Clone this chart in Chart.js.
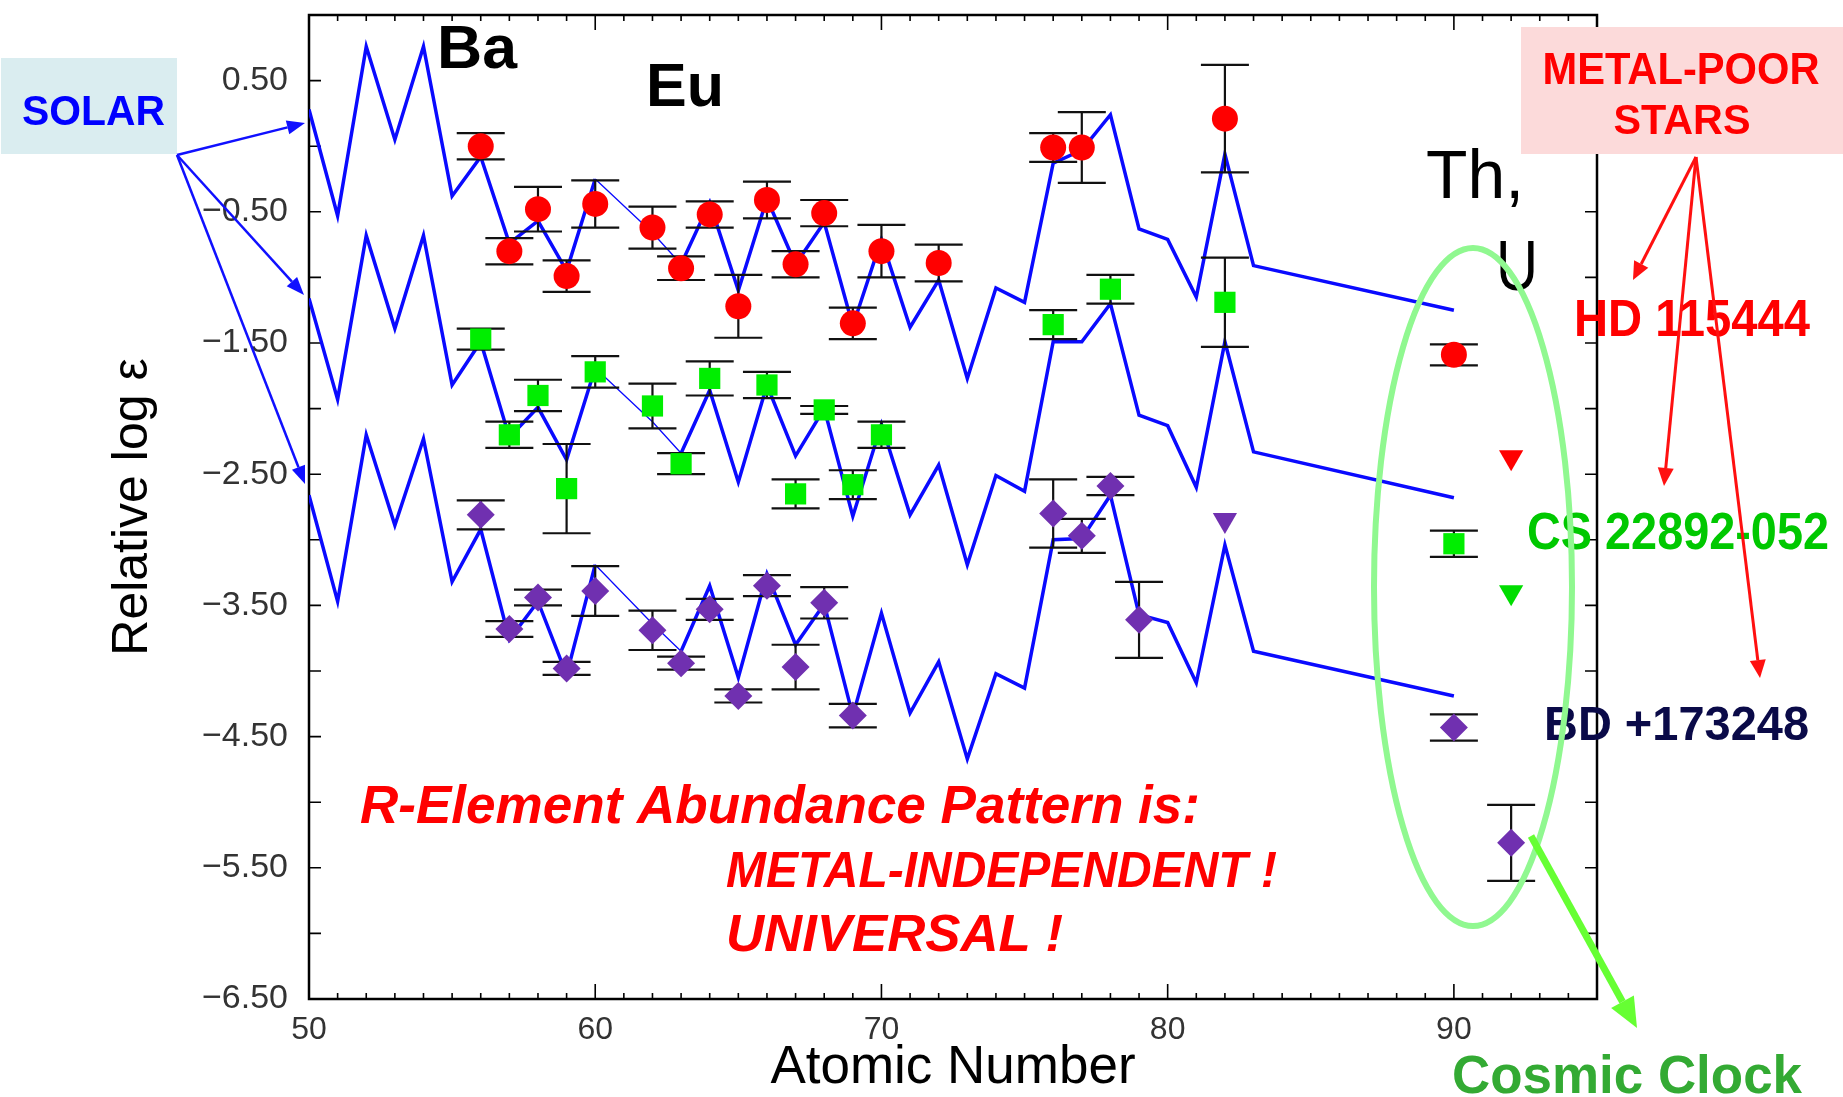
<!DOCTYPE html>
<html>
<head>
<meta charset="utf-8">
<title>r-process abundance pattern</title>
<script src="https://cdn.jsdelivr.net/npm/chart.js@4.4.1/dist/chart.umd.min.js"></script>
<style>
  html, body { margin: 0; padding: 0; background: #fff; }
  canvas { display: block; }
</style>
</head>
<body>
<canvas id="abund" width="1843" height="1097"></canvas>
<script>
// solar r-process curve, scaled to each star (no value for Z = 61, Z = 84-89)
const solarZ = [50, 51, 52, 53, 54, 55, 56, 57, 58, 59, 60,
  62, 63, 64, 65, 66, 67, 68, 69, 70, 71, 72, 73, 74, 75, 76, 77, 78, 79, 80, 81, 82, 83,
  90];
const solarHD = [0.28, -0.53, 0.76, 0.05, 0.76, -0.38, -0.08, -0.74, -0.57, -0.95, -0.25,
  -0.66, -0.90, -0.43, -1.10, -0.40, -0.90, -0.58, -1.37, -0.71, -1.38, -1.02, -1.77, -1.08, -1.19, -0.13, -0.03, 0.24, -0.63, -0.71, -1.15, -0.06, -0.91,
  -1.25];
const solarCS = [-1.16, -1.93, -0.68, -1.39, -0.68, -1.82, -1.49, -2.22, -1.99, -2.39, -1.69,
  -2.10, -2.34, -1.86, -2.56, -1.82, -2.36, -2.00, -2.82, -2.12, -2.81, -2.43, -3.19, -2.51, -2.63, -1.49, -1.49, -1.20, -2.05, -2.13, -2.60, -1.49, -2.33,
  -2.68];
const solarBD = [-2.66, -3.47, -2.20, -2.89, -2.23, -3.32, -2.92, -3.76, -3.47, -4.03, -3.19,
  -3.64, -3.85, -3.35, -4.05, -3.26, -3.80, -3.49, -4.34, -3.56, -4.32, -3.93, -4.67, -4.02, -4.13, -3.00, -2.99, -2.66, -3.57, -3.63, -4.09, -3.04, -3.85,
  -4.19];
// segments starting at these Z are drawn thin (across the Pm gap)
const thinFrom = [60, 62];

// HD 115444
const hdZ = [56, 57, 58, 59, 60, 62, 63, 64, 65, 66, 67, 68, 69, 70, 72, 76, 77, 82, 90];
const hdLog = [0.00, -0.80, -0.48, -0.99, -0.44, -0.62, -0.93, -0.52, -1.22, -0.41, -0.90, -0.51, -1.35, -0.80, -0.89, -0.01, -0.01, 0.21, -1.59];
const hdErr = [0.10, 0.10, 0.17, 0.12, 0.18, 0.16, 0.09, 0.10, 0.24, 0.14, 0.10, 0.10, 0.12, 0.20, 0.14, 0.11, 0.27, 0.41, 0.08];
const hdLimZ = [92];
const hdLim = [-2.37];

// CS 22892-052
const csZ = [56, 57, 58, 59, 60, 62, 63, 64, 66, 67, 68, 69, 70, 76, 78, 82, 90];
const csLog = [-1.47, -2.20, -1.90, -2.61, -1.72, -1.98, -2.42, -1.77, -1.82, -2.65, -2.01, -2.58, -2.20, -1.36, -1.09, -1.19, -3.03];
const csErr = [0.08, 0.10, 0.12, 0.34, 0.12, 0.17, 0.08, 0.13, 0.10, 0.11, 0.03, 0.11, 0.10, 0.11, 0.11, 0.34, 0.10];
const csLimZ = [92];
const csLim = [-3.40];

// BD +17 3248
const bdZ = [56, 57, 58, 59, 60, 62, 63, 64, 65, 66, 67, 68, 69, 76, 77, 78, 79, 90, 92];
const bdLog = [-2.81, -3.68, -3.44, -3.98, -3.39, -3.69, -3.94, -3.53, -4.19, -3.35, -3.97, -3.48, -4.34, -2.80, -2.97, -2.59, -3.61, -4.43, -5.31];
const bdErr = [0.11, 0.06, 0.06, 0.05, 0.19, 0.15, 0.05, 0.08, 0.05, 0.08, 0.17, 0.12, 0.09, 0.26, 0.13, 0.07, 0.29, 0.10, 0.29];
const bdLimZ = [82];
const bdLim = [-2.85];

const xTicks = [50, 60, 70, 80, 90];
const yTicks = [0.5, -0.5, -1.5, -2.5, -3.5, -4.5, -5.5, -6.5];

const FONT = '"Liberation Sans", Arial, Helvetica, sans-serif';

function pts(xs, ys) {
  return xs.map((x, i) => ({ x: x, y: ys[i] }));
}

function solarLine(ys) {
  return {
    data: pts(solarZ, ys),
    showLine: true,
    borderColor: '#0a0aff',
    borderWidth: 3.5,
    pointRadius: 0,
    tension: 0,
    order: 1,
    segment: { borderWidth: c => thinFrom.includes(c.p0.parsed.x) ? 1.3 : 3.5 }
  };
}

function stars(xs, ys, errs, style, color, radius) {
  return {
    data: pts(xs, ys),
    errors: errs,
    showLine: false,
    pointStyle: style,
    pointRadius: radius,
    backgroundColor: color,
    borderColor: color,
    borderWidth: 0,
    order: 0
  };
}

function limits(xs, ys, color) {
  return {
    data: pts(xs, ys),
    showLine: false,
    pointStyle: 'triangle',
    rotation: 180,
    pointRadius: 14,
    backgroundColor: color,
    borderColor: color,
    borderWidth: 0,
    order: 0
  };
}

// keep the axes from reserving room for half-labels at the ends
function noEdgePadding(s) {
  s.paddingTop = 0;
  s.paddingBottom = 0;
  s.paddingLeft = 0;
  s.paddingRight = 0;
}

// box frame with inward ticks on all four sides
const framePlugin = {
  id: 'frame',
  beforeDatasetsDraw(chart) {
    const { ctx, chartArea: a, scales: { x, y } } = chart;
    ctx.save();
    ctx.strokeStyle = '#000';
    ctx.lineWidth = 2.5;
    ctx.strokeRect(a.left, a.top, a.right - a.left, a.bottom - a.top);
    ctx.lineWidth = 1.6;
    ctx.beginPath();
    for (let z = 50; z <= 95; z++) {
      const px = x.getPixelForValue(z);
      const len = z % 10 === 0 ? 15 : 6;
      ctx.moveTo(px, a.bottom); ctx.lineTo(px, a.bottom - len);
      ctx.moveTo(px, a.top); ctx.lineTo(px, a.top + len);
    }
    for (let v = -6.5; v <= 1.0; v += 0.5) {
      const py = y.getPixelForValue(v);
      ctx.moveTo(a.left, py); ctx.lineTo(a.left + 12, py);
      ctx.moveTo(a.right, py); ctx.lineTo(a.right - 12, py);
    }
    ctx.stroke();
    ctx.restore();
  }
};

// error bars go over the solar curves but under the markers
let barsDrawn = false;
const errorBarPlugin = {
  id: 'errorBars',
  beforeDatasetsDraw() { barsDrawn = false; },
  beforeDatasetDraw(chart, args) {
    if (barsDrawn || chart.data.datasets[args.index].order !== 0) return;
    barsDrawn = true;
    const { ctx, scales: { x, y } } = chart;
    ctx.save();
    ctx.strokeStyle = '#111';
    ctx.lineWidth = 2.2;
    ctx.beginPath();
    chart.data.datasets.forEach(ds => {
      if (!ds.errors) return;
      ds.data.forEach((p, i) => {
        const px = x.getPixelForValue(p.x);
        const hi = y.getPixelForValue(p.y + ds.errors[i]);
        const lo = y.getPixelForValue(p.y - ds.errors[i]);
        ctx.moveTo(px, hi); ctx.lineTo(px, lo);
        ctx.moveTo(px - 24, hi); ctx.lineTo(px + 24, hi);
        ctx.moveTo(px - 24, lo); ctx.lineTo(px + 24, lo);
      });
    });
    ctx.stroke();
    ctx.restore();
  }
};

function text(ctx, t, x, y, size, color, w, style, align) {
  ctx.save();
  ctx.font = (style || 'bold') + ' ' + size + 'px ' + FONT;
  const m = ctx.measureText(t).width;
  const sx = w ? w / m : 1;
  const left = align === 'center' ? x - (w || m) / 2 : x;
  ctx.translate(left, y);
  ctx.scale(sx, 1);
  ctx.fillStyle = color;
  ctx.textAlign = 'left';
  ctx.textBaseline = 'alphabetic';
  ctx.fillText(t, 0, 0);
  ctx.restore();
}

function arrow(ctx, x0, y0, x1, y1, color, lw, head, half) {
  const ang = Math.atan2(y1 - y0, x1 - x0);
  const bx = x1 - Math.cos(ang) * head, by = y1 - Math.sin(ang) * head;
  ctx.save();
  ctx.strokeStyle = color;
  ctx.fillStyle = color;
  ctx.lineWidth = lw;
  ctx.beginPath();
  ctx.moveTo(x0, y0);
  ctx.lineTo(bx, by);
  ctx.stroke();
  ctx.beginPath();
  ctx.moveTo(x1, y1);
  ctx.lineTo(bx + Math.sin(ang) * half, by - Math.cos(ang) * half);
  ctx.lineTo(bx - Math.sin(ang) * half, by + Math.cos(ang) * half);
  ctx.closePath();
  ctx.fill();
  ctx.restore();
}

// labels, boxes and arrows drawn on top of the plot
const notesPlugin = {
  id: 'notes',
  afterDraw(chart) {
    const ctx = chart.ctx;

    ctx.fillStyle = '#daedf0';
    ctx.fillRect(1, 58, 176, 96);
    text(ctx, 'SOLAR', 22, 125, 43, '#0000ff', 143);
    [[305, 123], [304, 295], [305, 484]].forEach(p => arrow(ctx, 177, 155, p[0], p[1], '#1010ff', 2.5, 18, 7));

    text(ctx, 'Ba', 437, 68, 62, '#000', 80);
    text(ctx, 'Eu', 646, 106, 62, '#000', 78);
    text(ctx, 'Th,', 1426, 198, 68, '#000', 98, 'normal');
    text(ctx, 'U', 1496, 290, 70, '#000', 42, 'normal');

    ctx.fillStyle = '#fcdada';
    ctx.fillRect(1521, 27, 322, 127);
    text(ctx, 'METAL-POOR', 1681, 84, 44, '#ff0000', 277, 'bold', 'center');
    text(ctx, 'STARS', 1682, 134, 43, '#ff0000', 137, 'bold', 'center');

    text(ctx, 'HD 115444', 1574, 336, 52, '#ff0000', 236);
    text(ctx, 'CS 22892-052', 1527, 549, 51, '#00c800', 302);
    text(ctx, 'BD +173248', 1544, 740, 49, '#0a0a48', 265);
    [[1633, 280], [1664, 486], [1760, 678]].forEach(p => arrow(ctx, 1696, 157, p[0], p[1], '#ff1010', 3, 18, 8));

    ctx.save();
    ctx.strokeStyle = '#90f890';
    ctx.lineWidth = 6;
    ctx.beginPath();
    ctx.ellipse(1473, 587, 99, 339, 0, 0, Math.PI * 2);
    ctx.stroke();
    ctx.restore();
    arrow(ctx, 1531, 836, 1637, 1028, '#66ff33', 7, 30, 13);
    text(ctx, 'Cosmic Clock', 1452, 1093, 53, '#33aa33', 350);

    text(ctx, 'R-Element Abundance Pattern is:', 360, 823, 53, '#ff0000', 840, 'italic bold');
    text(ctx, 'METAL-INDEPENDENT !', 726, 887, 50, '#ff0000', 551, 'italic bold');
    text(ctx, 'UNIVERSAL !', 726, 951, 52, '#ff0000', 337, 'italic bold');
  }
};

new Chart(document.getElementById('abund').getContext('2d'), {
  type: 'scatter',
  data: {
    datasets: [
      stars(hdZ, hdLog, hdErr, 'circle', '#ff0000', 13),
      stars(csZ, csLog, csErr, 'rect', '#00ee00', 15),
      stars(bdZ, bdLog, bdErr, 'rectRot', '#7030b0', 14),
      limits(hdLimZ, hdLim, '#ff0000'),
      limits(csLimZ, csLim, '#00dd00'),
      limits(bdLimZ, bdLim, '#7030b0'),
      solarLine(solarHD),
      solarLine(solarCS),
      solarLine(solarBD)
    ]
  },
  options: {
    responsive: false,
    animation: false,
    events: [],
    layout: { padding: { top: 12, right: 246, bottom: 0, left: 0 } },
    plugins: { legend: { display: false }, tooltip: { enabled: false } },
    scales: {
      x: {
        type: 'linear',
        min: 50,
        max: 95,
        grid: { display: false, drawTicks: false },
        border: { display: false },
        afterBuildTicks: s => { s.ticks = xTicks.map(v => ({ value: v })); },
        afterFit: s => { s.height = 98; noEdgePadding(s); },
        ticks: {
          autoSkip: false,
          maxRotation: 0,
          padding: 12,
          color: '#333',
          font: { family: FONT, size: 32 }
        },
        title: {
          display: true,
          text: 'Atomic Number',
          color: '#000',
          font: { family: FONT, size: 53, lineHeight: 1 },
          padding: { top: 0, bottom: 2 }
        }
      },
      y: {
        type: 'linear',
        min: -6.5,
        max: 1.0,
        grid: { display: false, drawTicks: false },
        border: { display: false },
        afterBuildTicks: s => { s.ticks = yTicks.map(v => ({ value: v })); },
        afterFit: s => { s.width = 309; noEdgePadding(s); },
        ticks: {
          autoSkip: false,
          padding: 21,
          color: '#333',
          font: { family: FONT, size: 34 },
          callback: v => v.toFixed(2).replace('-', '\u2212')
        },
        title: {
          display: true,
          text: 'Relative log \u03b5',
          color: '#000',
          font: { family: FONT, size: 50, lineHeight: 1.2 },
          padding: { top: 103, bottom: 0 }
        }
      }
    }
  },
  plugins: [framePlugin, errorBarPlugin, notesPlugin]
});
</script>
</body>
</html>
